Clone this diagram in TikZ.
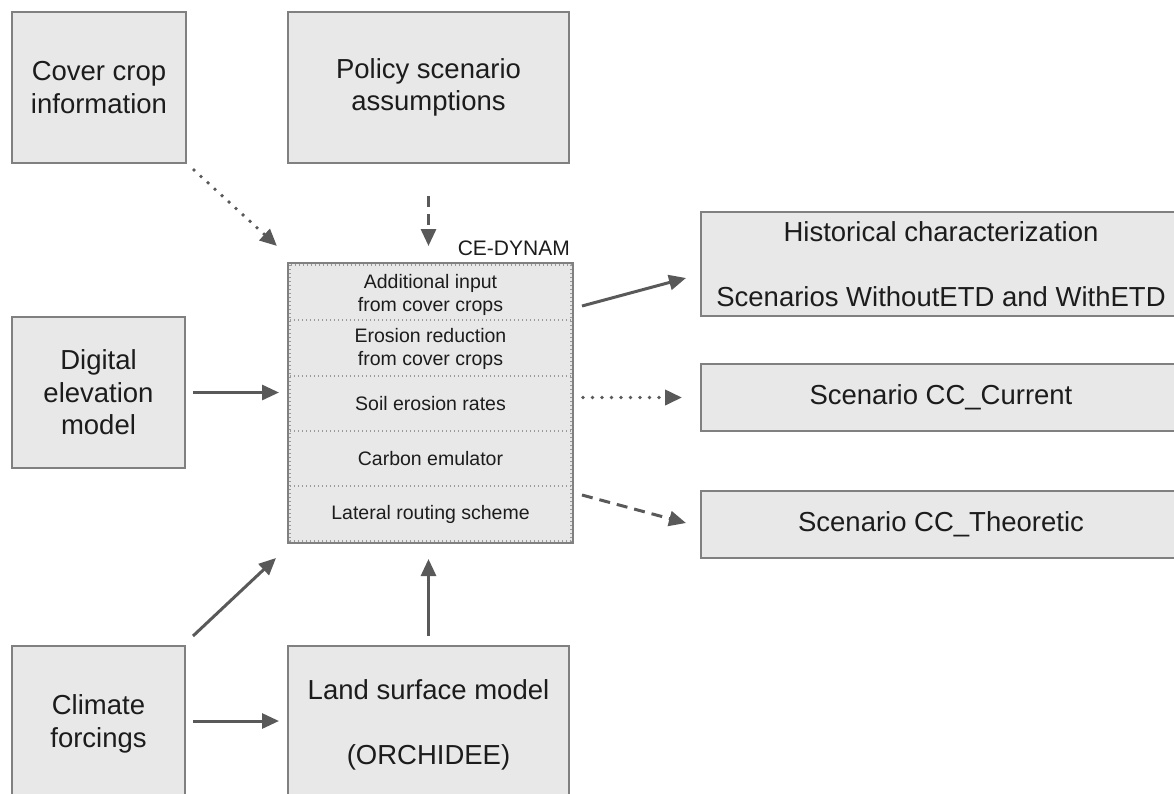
\documentclass[tikz,border=0pt]{standalone}
\usepackage{fontspec}
\setmainfont{Liberation Sans}
\usetikzlibrary{arrows.meta,calc}
\definecolor{boxfill}{HTML}{E8E8E8}
\definecolor{boxline}{HTML}{808080}
\definecolor{arrowc}{HTML}{595959}
\definecolor{txt}{HTML}{1C1C1C}
\definecolor{divc}{HTML}{9A9A9A}
\begin{document}
\begin{tikzpicture}[x=1pt,y=-1pt,
  box/.style={draw=boxline, fill=boxfill, line width=2pt, inner sep=0pt, text=txt, align=center, font=\fontsize{27.5}{32.5}\selectfont},
  cetext/.style={inner sep=0pt, text=txt, align=center, font=\fontsize{19.5}{23}\selectfont},
  conn/.style={draw=arrowc, line width=3pt, -{Triangle[length=17pt,width=15pt]}},
  dotconn/.style={conn, dash pattern=on 0pt off 9.5pt, line cap=round, line width=3.8pt},
  dashconn/.style={conn, dash pattern=on 11pt off 7pt},
  divider/.style={draw=divc, line width=1.1pt, dash pattern=on 1.4pt off 2.6pt}]
\useasboundingbox (0,0) rectangle (1174,793);
\clip (0,0) rectangle (1174,793);
% boxes
\node[box, minimum width=174pt, minimum height=151pt] (cover) at (99,87.5) {Cover crop\\information};
\node[box, minimum width=281pt, minimum height=151pt] (policy) at (428.5,87.5) {Policy scenario\\assumptions};
\node[box, minimum width=173pt, minimum height=151pt] (digital) at (98.5,392.5) {Digital\\elevation\\model};
\node[box, minimum width=173pt, minimum height=156pt] (climate) at (98.5,724) {Climate\\forcings};
\node[box, minimum width=281pt, minimum height=158pt] (land) at (428.5,725) {Land surface model\\ \\(ORCHIDEE)};
\node[box, minimum width=480pt, minimum height=104pt] (hist) at (941,264) {Historical characterization\\ \\Scenarios WithoutETD and WithETD};
\node[box, minimum width=480pt, minimum height=67pt] (current) at (941,397.5) {Scenario CC\_Current};
\node[box, minimum width=480pt, minimum height=67pt] (theo) at (941,524) {Scenario CC\_Theoretic};
% CE-DYNAM
\node[draw=boxline, fill=boxfill, line width=2pt, inner sep=0pt, minimum width=285pt, minimum height=280pt] (ce) at (430.5,403) {};
\draw[divider] ([shift={(3pt,-3pt)}]ce.north west) rectangle ([shift={(-3pt,3pt)}]ce.south east);
\coordinate (d1) at (0,320);
\coordinate (d2) at (0,376);
\coordinate (d3) at (0,431);
\coordinate (d4) at (0,486);
\foreach \d in {d1,d2,d3,d4}
  \draw[divider] ($(ce.west |- \d)+(3pt,0)$) -- ($(ce.east |- \d)+(-3pt,0)$);
\node[cetext] (t1) at (430.5,294.5) {Additional input\\from cover crops};
\node[cetext] (t2) at (430.5,349) {Erosion reduction\\from cover crops};
\node[cetext] (t3) at (430.5,404) {Soil erosion rates};
\node[cetext] (t4) at (430.5,459) {Carbon emulator};
\node[cetext] (t5) at (430.5,514) {Lateral routing scheme};
\node[inner sep=0pt, anchor=base east, text=txt, font=\fontsize{21}{25}\selectfont] (celabel) at ([shift={(-4pt,7pt)}]ce.north east) {CE-DYNAM};
% connectors
\draw[dotconn] ([shift={(7pt,-6pt)}]cover.south east) -- ([shift={(-10pt,16pt)}]ce.north west);
\draw[dashconn] ([yshift=-32pt]policy.south) -- ([yshift=16pt]policy.south |- ce.north);
\draw[conn] ([xshift=7pt]digital.east) -- ([xshift=-8pt]digital.east -| ce.west);
\draw[conn] ([shift={(7pt,9pt)}]climate.north east) -- ([shift={(-11pt,-14pt)}]ce.south west);
\draw[conn] ([shift={(7pt,3pt)}]climate.east) -- ([shift={(-8pt,3pt)}]climate.east -| land.west);
\draw[conn] ([yshift=9pt]land.north) -- ([yshift=-15pt]land.north |- ce.south);
\draw[conn] ([shift={(8pt,-44pt)}]ce.north east) -- ([shift={(-14pt,-14pt)}]hist.west);
\draw[dotconn] ([xshift=9pt]current.west -| ce.east) -- ([xshift=-18pt]current.west);
\draw[dashconn] ([shift={(8pt,49pt)}]ce.south east) -- ([shift={(-14pt,1pt)}]theo.west);
\end{tikzpicture}
\end{document}
